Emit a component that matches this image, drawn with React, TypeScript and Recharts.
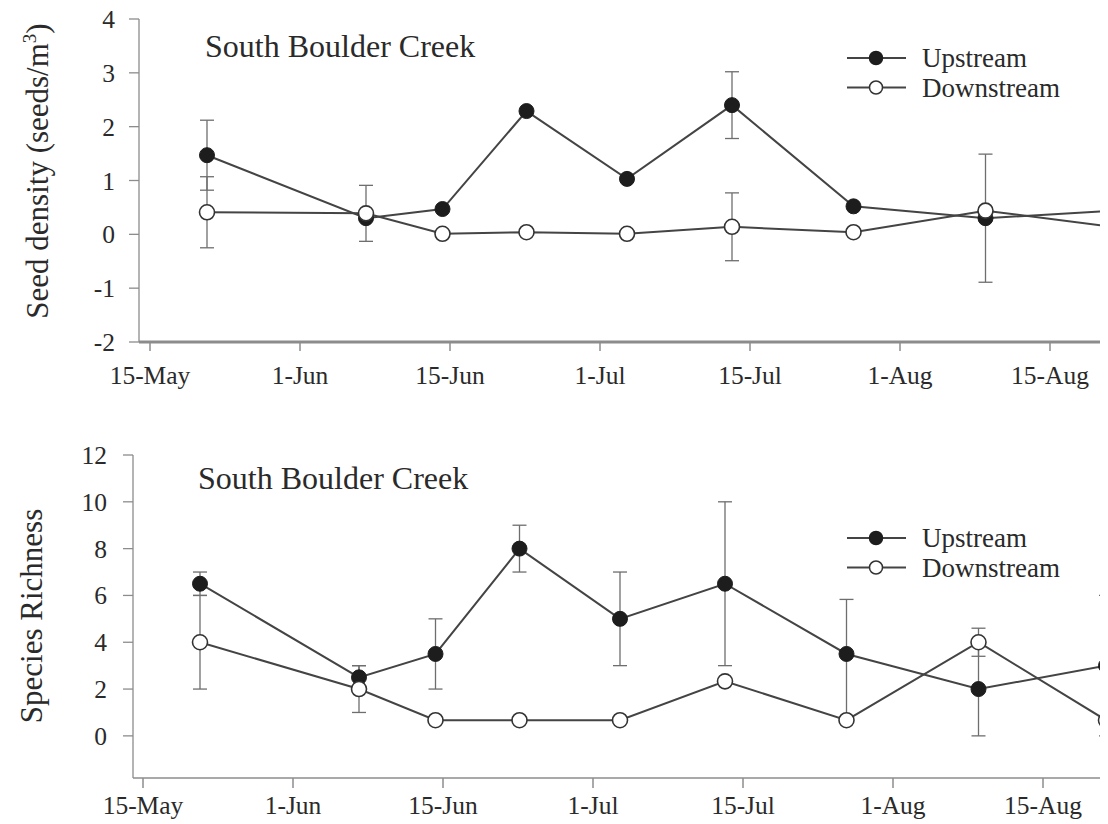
import React from 'react';
import { LineChart, Line, XAxis, YAxis, ErrorBar, Legend } from 'recharts';

// Half-month date axis: tick 0 = 15-May, 1 = 1-Jun, ...
const dateTicks = [0, 1, 2, 3, 4, 5, 6];
const dateLabels = ['15-May', '1-Jun', '15-Jun', '1-Jul', '15-Jul', '1-Aug', '15-Aug'];

// Sampling dates on the same half-month scale
const sampleDates = [0.38, 1.44, 1.95, 2.51, 3.18, 3.88, 4.69, 5.57, 6.42];

type Err = number | [number, number] | null;

// Seed density (seeds/m3)
const seedUpstream = [1.47, 0.3, 0.47, 2.29, 1.03, 2.4, 0.52, 0.3, 0.44];
const seedUpstreamErr: Err[] = [0.65, null, null, null, null, 0.62, null, 1.19, null];
const seedDownstream = [0.41, 0.39, 0.01, 0.04, 0.01, 0.14, 0.04, 0.44, 0.14];
const seedDownstreamErr: Err[] = [0.66, 0.52, null, null, null, 0.63, null, null, null];
const seedTicks = [-2, -1, 0, 1, 2, 3, 4];

// Species richness
const richUpstream = [6.5, 2.5, 3.5, 8, 5, 6.5, 3.5, 2, 3];
const richUpstreamErr: Err[] = [0.5, 0.5, 1.5, 1, 2, 3.5, [2.83, 2.33], 2, 3];
const richDownstream = [4, 2, 0.67, 0.67, 0.67, 2.33, 0.67, 4, 0.67];
const richDownstreamErr: Err[] = [2, 1, null, null, null, null, null, 0.6, null];
const richTicks = [0, 2, 4, 6, 8, 10, 12];

const seriesNames = ['Upstream', 'Downstream'];

const seedRows = sampleDates.map((date, i) => ({
  date,
  up: seedUpstream[i],
  upErr: seedUpstreamErr[i],
  down: seedDownstream[i],
  downErr: seedDownstreamErr[i],
}));

const richRows = sampleDates.map((date, i) => ({
  date,
  up: richUpstream[i],
  upErr: richUpstreamErr[i],
  down: richDownstream[i],
  downErr: richDownstreamErr[i],
}));

const FONT = '"Liberation Serif", "Times New Roman", serif';
const INK = '#2a2a2a';
const LINE = '#444444';
const AXIS = '#8c8c8c';
const ERR = '#6e6e6e';
const UP_FILL = '#1d1d1d';

const upDot = { r: 7.5, fill: UP_FILL, stroke: UP_FILL, strokeWidth: 1 };
const downDot = { r: 7.5, fill: '#ffffff', stroke: '#333333', strokeWidth: 1.6 };

function LegendBox() {
  const styles = [
    { fill: UP_FILL, stroke: UP_FILL },
    { fill: '#ffffff', stroke: '#333333' },
  ];
  return (
    <svg width={250} height={60} style={{ display: 'block', overflow: 'visible' }}>
      {seriesNames.map((name, i) => {
        const y = 15 + i * 29.5;
        return (
          <g key={name}>
            <line x1={0} x2={59} y1={y} y2={y} stroke={LINE} strokeWidth={1.8} />
            <circle cx={29} cy={y} r={6.5} fill={styles[i].fill} stroke={styles[i].stroke} strokeWidth={1.5} />
            <text x={75} y={y} dy="0.35em" fontSize={27} fontFamily={FONT} fill={INK}>
              {name}
            </text>
          </g>
        );
      })}
    </svg>
  );
}

const tickStyle = { fill: INK, fontSize: 25.5, fontFamily: FONT };

function SeedPanel() {
  return (
    <div style={{ position: 'absolute', left: 0, top: 0, width: 1150, height: 384 }}>
      <LineChart width={1150} height={384} data={seedRows} margin={{ top: 11, right: 18, bottom: 0, left: 0 }}>
        <XAxis
          type="number"
          dataKey="date"
          domain={[-11 / 150, 6.6]}
          allowDataOverflow
          ticks={dateTicks}
          interval={0}
          tickFormatter={(v: number) => dateLabels[v]}
          height={50}
          tickSize={9}
          tickMargin={15}
          axisLine={{ stroke: AXIS, strokeWidth: 3 }}
          tickLine={{ stroke: AXIS, strokeWidth: 1.5 }}
          tick={tickStyle}
        />
        <YAxis
          type="number"
          domain={[-2, 4]}
          allowDataOverflow
          ticks={seedTicks}
          interval={0}
          width={131}
          tickSize={10}
          tickMargin={14}
          axisLine={{ stroke: AXIS, strokeWidth: 1.3 }}
          tickLine={{ stroke: AXIS, strokeWidth: 1.3 }}
          tick={tickStyle}
        />
        <Legend
          content={<LegendBox />}
          layout="vertical"
          align="center"
          verticalAlign="middle"
          wrapperStyle={{ top: 35, left: 839, width: 250, height: 60 }}
        />
        <Line
          dataKey="up"
          name="Upstream"
          stroke={LINE}
          strokeWidth={2}
          dot={upDot}
          activeDot={false}
          isAnimationActive={false}
        >
          <ErrorBar dataKey="upErr" direction="y" width={7} stroke={ERR} strokeWidth={1.3} />
        </Line>
        <Line
          dataKey="down"
          name="Downstream"
          stroke={LINE}
          strokeWidth={2}
          dot={downDot}
          activeDot={false}
          isAnimationActive={false}
        >
          <ErrorBar dataKey="downErr" direction="y" width={7} stroke={ERR} strokeWidth={1.3} />
        </Line>
      </LineChart>
      <svg width={1150} height={384} style={{ position: 'absolute', left: 0, top: 0, pointerEvents: 'none' }}>
        <text x={197} y={49} fontSize={32} fontFamily={FONT} fill={INK}>
          South Boulder Creek
        </text>
        <text transform="translate(40,163) rotate(-90)" textAnchor="middle" fontSize={31} fontFamily={FONT} fill={INK}>
          Seed density (seeds/m
          <tspan dy={-12} fontSize={19}>3</tspan>
          <tspan dy={12}>)</tspan>
        </text>
      </svg>
    </div>
  );
}

function RichnessPanel() {
  return (
    <div style={{ position: 'absolute', left: 0, top: 400, width: 1150, height: 416 }}>
      <LineChart width={1150} height={416} data={richRows} margin={{ top: 47, right: 25, bottom: 0, left: 0 }}>
        <XAxis
          type="number"
          dataKey="date"
          domain={[-10 / 150, 6.6]}
          allowDataOverflow
          ticks={dateTicks}
          interval={0}
          tickFormatter={(v: number) => dateLabels[v]}
          height={46}
          tickSize={10}
          tickMargin={8}
          axisLine={{ stroke: AXIS, strokeWidth: 1.6 }}
          tickLine={{ stroke: AXIS, strokeWidth: 1.5 }}
          tick={tickStyle}
        />
        <YAxis
          type="number"
          domain={[-1.8, 12]}
          allowDataOverflow
          ticks={richTicks}
          interval={0}
          width={125}
          tickSize={10}
          tickMargin={16}
          axisLine={{ stroke: AXIS, strokeWidth: 1.3 }}
          tickLine={{ stroke: AXIS, strokeWidth: 1.3 }}
          tick={tickStyle}
        />
        <Legend
          content={<LegendBox />}
          layout="vertical"
          align="center"
          verticalAlign="middle"
          wrapperStyle={{ top: 115, left: 839, width: 250, height: 60 }}
        />
        <Line
          dataKey="up"
          name="Upstream"
          stroke={LINE}
          strokeWidth={2}
          dot={upDot}
          activeDot={false}
          isAnimationActive={false}
        >
          <ErrorBar dataKey="upErr" direction="y" width={7} stroke={ERR} strokeWidth={1.3} />
        </Line>
        <Line
          dataKey="down"
          name="Downstream"
          stroke={LINE}
          strokeWidth={2}
          dot={downDot}
          activeDot={false}
          isAnimationActive={false}
        >
          <ErrorBar dataKey="downErr" direction="y" width={7} stroke={ERR} strokeWidth={1.3} />
        </Line>
      </LineChart>
      <svg width={1150} height={416} style={{ position: 'absolute', left: 0, top: 0, pointerEvents: 'none' }}>
        <text x={190} y={81} fontSize={32} fontFamily={FONT} fill={INK}>
          South Boulder Creek
        </text>
        <text transform="translate(34,208) rotate(-90)" textAnchor="middle" fontSize={31} fontFamily={FONT} fill={INK}>
          Species Richness
        </text>
      </svg>
    </div>
  );
}

export default function App() {
  return (
    <div style={{ position: 'relative', width: 1100, height: 816, overflow: 'hidden', background: '#ffffff' }}>
      <SeedPanel />
      <RichnessPanel />
    </div>
  );
}
